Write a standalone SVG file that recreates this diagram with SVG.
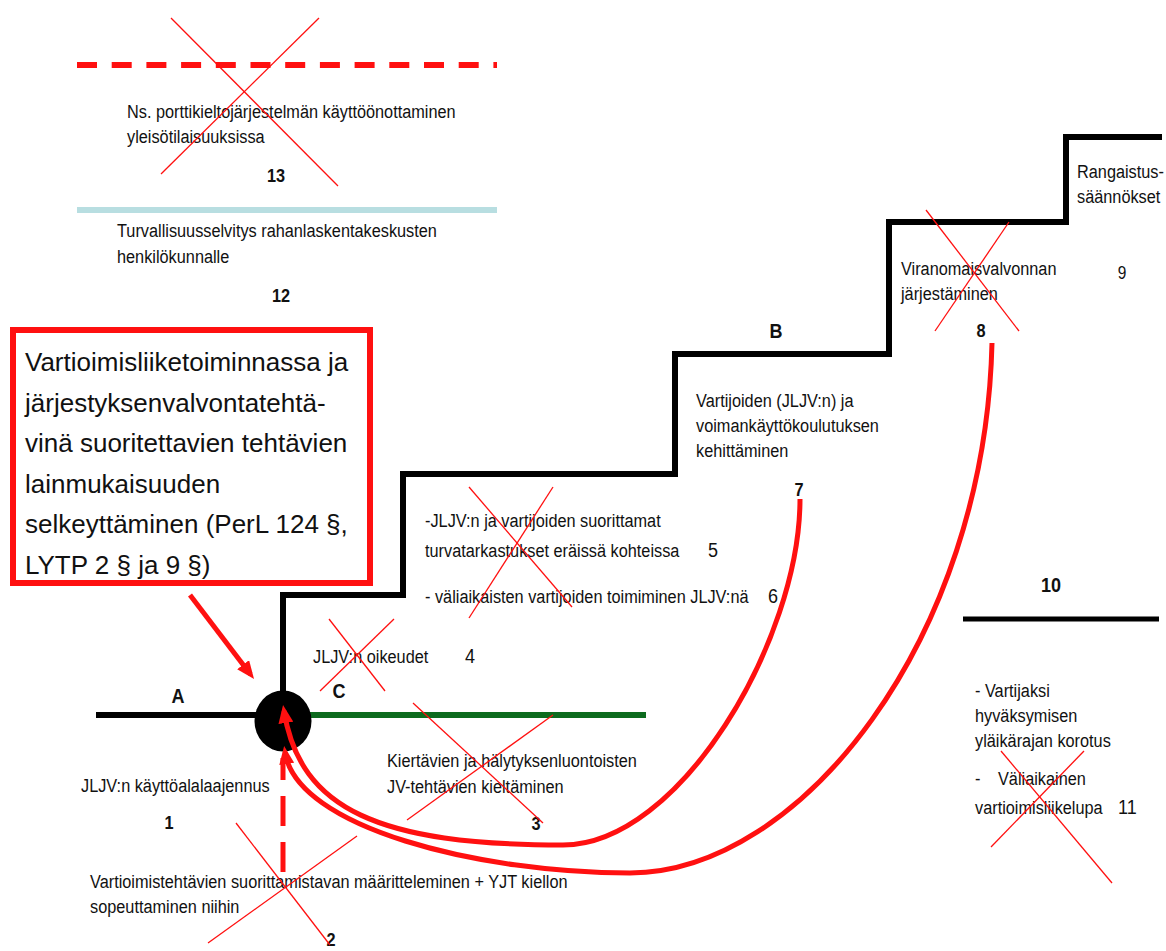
<svg xmlns="http://www.w3.org/2000/svg" width="1166" height="951" viewBox="0 0 1166 951">
  <style>
    .n { font-family: "Liberation Sans", Arial, sans-serif; font-size: 19px; fill: #111; }
    .nb { font-family: "Liberation Sans", Arial, sans-serif; font-size: 19px; font-weight: bold; fill: #111; text-anchor: middle; }
    .lb { font-family: "Liberation Sans", Arial, sans-serif; font-size: 21px; font-weight: bold; fill: #111; text-anchor: middle; }
    .num { font-family: "Liberation Sans", Arial, sans-serif; font-size: 21px; fill: #111; }
    .big { font-family: "Liberation Sans", Arial, sans-serif; font-size: 26px; fill: #111; }
    .x { stroke: #ff1010; stroke-width: 1.3; fill: none; }
    .stair { stroke: #000; stroke-width: 6; fill: none; stroke-linejoin: miter; stroke-linecap: square; }
    .conn { stroke: #ff1010; stroke-width: 5; fill: none; stroke-linecap: butt; }
  </style>
  <defs>
    <marker id="head" markerUnits="userSpaceOnUse" viewBox="0 0 18 15" markerWidth="18" markerHeight="15" refX="12" refY="7.5" orient="auto">
      <path d="M0,0 L18,7.5 L0,15 z" fill="#ff1010"/>
    </marker>
  </defs>

  <rect width="1166" height="951" fill="#fff"/>

  <!-- level lines -->
  <g id="levels">
    <line x1="77" y1="65" x2="497" y2="65" stroke="#ff1010" stroke-width="6" stroke-dasharray="20 14.7"/>
    <line x1="77" y1="210" x2="497" y2="210" stroke="#b8dee1" stroke-width="6"/>
    <polyline class="stair" points="283,721 283,595 403,595 403,474 675,474 675,354 889,354 889,222 1066,222 1066,137 1159,137"/>
    <line x1="96" y1="715" x2="283" y2="715" stroke="#000" stroke-width="6"/>
    <line x1="283" y1="715" x2="646" y2="715" stroke="#0d6b1e" stroke-width="6"/>
    <line x1="963" y1="619" x2="1159" y2="619" stroke="#000" stroke-width="5"/>
  </g>

  <!-- item 13 -->
  <g id="item13">
    <text class="n" transform="translate(127 118) scale(.858 1)"><tspan x="0" y="0">Ns. porttikieltojärjestelmän käyttöönottaminen</tspan><tspan x="0" y="25">yleisötilaisuuksissa</tspan></text>
    <text class="nb" transform="translate(276 182) scale(.858 1)">13</text>
    <line class="x" x1="171" y1="18" x2="338" y2="186"/>
    <line class="x" x1="319" y1="18" x2="161" y2="174"/>
  </g>

  <!-- item 12 -->
  <g id="item12">
    <text class="n" transform="translate(117 237) scale(.858 1)"><tspan x="0" y="0">Turvallisuusselvitys rahanlaskentakeskusten</tspan><tspan x="0" y="26">henkilökunnalle</tspan></text>
    <text class="nb" transform="translate(281 302) scale(.858 1)">12</text>
  </g>

  <!-- main box -->
  <g id="mainbox">
    <rect x="13" y="330" width="357" height="253" fill="#fff" stroke="#ff1010" stroke-width="6"/>
    <text class="big" x="25" y="371">
      <tspan x="25" y="371">Vartioimisliiketoiminnassa ja</tspan>
      <tspan x="25" y="411.5">järjestyksenvalvontatehtä-</tspan>
      <tspan x="25" y="452">vinä suoritettavien tehtävien</tspan>
      <tspan x="25" y="492.5">lainmukaisuuden</tspan>
      <tspan x="25" y="533">selkeyttäminen (PerL 124 §,</tspan>
      <tspan x="25" y="573.5">LYTP 2 § ja 9 §)</tspan>
    </text>
  </g>

  <!-- item 9 -->
  <g id="item9">
    <text class="n" transform="translate(1077 178) scale(.858 1)"><tspan x="0" y="0">Rangaistus-</tspan><tspan x="0" y="25">säännökset</tspan></text>
    <text class="num" style="font-size:18px;text-anchor:middle" transform="translate(1122 279) scale(.858 1)">9</text>
  </g>

  <!-- item 8 -->
  <g id="item8">
    <text class="n" transform="translate(901 275) scale(.858 1)"><tspan x="0" y="0">Viranomaisvalvonnan</tspan><tspan x="0" y="25">järjestäminen</tspan></text>
    <text class="nb" transform="translate(981 337) scale(.858 1)">8</text>
    <line class="x" x1="926" y1="210" x2="1019" y2="331"/>
    <line class="x" x1="1009" y1="222" x2="935" y2="331"/>
  </g>

  <!-- level B, item 7 -->
  <g id="item7">
    <text class="lb" transform="translate(776 338) scale(.858 1)">B</text>
    <text class="n" transform="translate(696 407) scale(.858 1)"><tspan x="0" y="0">Vartijoiden (JLJV:n) ja</tspan><tspan x="0" y="25">voimankäyttökoulutuksen</tspan><tspan x="0" y="50">kehittäminen</tspan></text>
    <text class="nb" transform="translate(799 496) scale(.858 1)">7</text>
  </g>

  <!-- items 5 and 6 -->
  <g id="item5-6">
    <text class="n" transform="translate(425 527) scale(.858 1)"><tspan x="0" y="0">-JLJV:n ja vartijoiden suorittamat</tspan><tspan x="0" y="30">turvatarkastukset eräissä kohteissa</tspan><tspan x="0" y="76">- väliaikaisten vartijoiden toimiminen JLJV:nä</tspan></text>
    <text class="num" transform="translate(708 557) scale(.858 1)">5</text>
    <text class="num" transform="translate(768 603) scale(.858 1)">6</text>
    <line class="x" x1="469" y1="487" x2="572" y2="607"/>
    <line class="x" x1="553" y1="487" x2="469" y2="618"/>
  </g>

  <!-- level 10, item 11 -->
  <g id="item10-11">
    <text class="lb" transform="translate(1051 592) scale(.858 1)">10</text>
    <text class="n" transform="translate(975 697) scale(.858 1)"><tspan x="0" y="0">- Vartijaksi</tspan><tspan x="0" y="25">hyväksymisen</tspan><tspan x="0" y="50">yläikärajan korotus</tspan><tspan x="0" y="88">-</tspan><tspan x="26.8" y="88">Väliaikainen</tspan><tspan x="0" y="117">vartioimisliikelupa</tspan></text>
    <text class="num" transform="translate(1118 814) scale(.858 1)">11</text>
    <line class="x" x1="1001" y1="751" x2="1112" y2="883"/>
    <line class="x" x1="1084" y1="751" x2="991" y2="847"/>
  </g>

  <!-- item 4 -->
  <g id="item4">
    <text class="n" transform="translate(313 663) scale(.858 1)">JLJV:n oikeudet</text>
    <text class="num" transform="translate(465 663) scale(.858 1)">4</text>
    <line class="x" x1="329" y1="619" x2="385" y2="691"/>
    <line class="x" x1="394" y1="619" x2="320" y2="691"/>
  </g>

  <!-- levels A and C -->
  <g id="labelA">
    <text class="lb" transform="translate(178 703) scale(.858 1)">A</text>
  </g>
  <g id="labelC">
    <text class="lb" transform="translate(339 698) scale(.858 1)">C</text>
  </g>

  <!-- item 3 -->
  <g id="item3">
    <text class="n" transform="translate(387 767) scale(.858 1)"><tspan x="0" y="0">Kiertävien ja hälytyksenluontoisten</tspan><tspan x="0" y="26">JV-tehtävien kieltäminen</tspan></text>
    <text class="nb" transform="translate(536 830) scale(.858 1)">3</text>
    <line class="x" x1="413" y1="703" x2="543" y2="823"/>
    <line class="x" x1="553" y1="715" x2="407" y2="820"/>
  </g>

  <!-- item 1 -->
  <g id="item1">
    <text class="n" transform="translate(81 792) scale(.858 1)">JLJV:n käyttöalalaajennus</text>
    <text class="nb" transform="translate(169 829) scale(.858 1)">1</text>
  </g>

  <!-- item 2 -->
  <g id="item2">
    <text class="n" transform="translate(90 888) scale(.858 1)"><tspan x="0" y="0">Vartioimistehtävien suorittamistavan määritteleminen + YJT kiellon</tspan><tspan x="0" y="25">sopeuttaminen niihin</tspan></text>
    <text class="nb" transform="translate(331 946) scale(.858 1)">2</text>
    <line class="x" x1="236" y1="823" x2="330" y2="945"/>
    <line class="x" x1="357" y1="836" x2="208" y2="943"/>
  </g>

  <!-- junction -->
  <g id="junction">
    <ellipse cx="283" cy="721" rx="28.5" ry="30.5" fill="#000"/>
  </g>

  <!-- connectors -->
  <g id="connectors">
    <line class="conn" x1="190" y1="595" x2="250.4" y2="674.2" marker-end="url(#head)"/>
    <line class="conn" x1="283" y1="872" x2="283" y2="758" stroke-dasharray="30 16"/>
    <path class="conn" d="M800,499 C800,640 680,845 563,845 C380,845 300,810 284,711" marker-end="url(#head)"/>
    <path class="conn" d="M992,343 C985,640 800,873 630,873 C480,873 296,828 285,752" marker-end="url(#head)"/>
  </g>
</svg>
